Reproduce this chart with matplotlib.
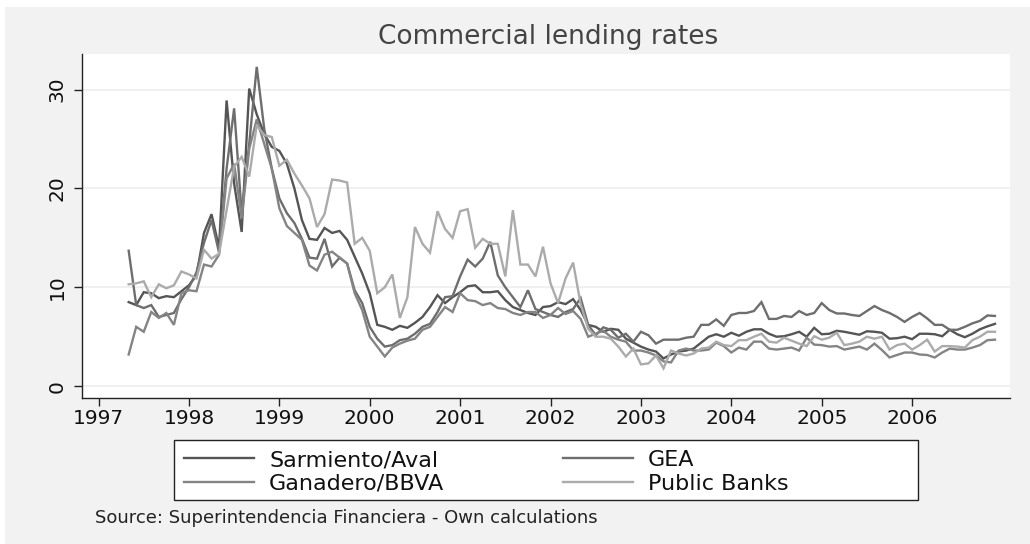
import matplotlib
matplotlib.use('Agg')
import matplotlib.pyplot as plt
from matplotlib.patches import Rectangle
import numpy as np

# ---------------- data (monthly, May 1997 - Dec 2006) ----------------
start_year = 1997
start_month = 5
years = [1997, 1998, 1999, 2000, 2001, 2002, 2003, 2004, 2005, 2006]
yticks = [0, 10, 20, 30]
labels = ["Sarmiento/Aval", "GEA", "Ganadero/BBVA", "Public Banks"]

sarmiento = [8.5, 8.2, 9.5, 9.4, 8.9, 9.1, 9.0, 9.6, 10.2, 11.2, 15.5, 17.4,
             14.0, 28.9, 20.5, 15.6, 30.1, 27.5, 25.5, 24.2,
             23.8, 22.5, 20.0, 16.8, 14.9, 14.8, 16.0, 15.5, 15.7, 14.8, 13.1, 11.4,
             9.4, 6.2, 6.0, 5.7, 6.1, 5.9, 6.4, 7.0, 8.0, 9.2, 8.4, 9.0,
             9.5, 10.1, 10.2, 9.5, 9.5, 9.6, 8.7, 8.0, 7.7, 7.4, 7.2, 8.0,
             8.1, 8.5, 8.3, 8.8, 7.7, 6.2, 6.0, 5.5, 5.8, 5.7, 4.8, 4.4,
             4.0, 3.7, 3.5, 2.8, 3.2, 3.5, 3.6, 3.8, 4.4, 5.0, 5.25, 5.0,
             5.4, 5.1, 5.5, 5.75, 5.75, 5.3, 5.0, 5.05, 5.25, 5.5, 5.0, 5.9,
             5.25, 5.3, 5.6, 5.5, 5.35, 5.2, 5.55, 5.5, 5.4, 4.8, 4.85, 5.0,
             4.75, 5.3, 5.3, 5.25, 5.05, 5.7, 5.25, 4.95, 5.3, 5.75, 6.05, 6.3]

gea = [13.7, 8.2, 7.9, 8.2, 7.0, 7.2, 7.4, 8.8, 10.0, 11.5, 14.5, 16.8,
       13.5, 22.0, 28.1, 17.5, 24.5, 32.3, 26.0, 22.0,
       19.0, 17.5, 16.5, 14.9, 13.0, 12.9, 14.9, 12.1, 13.0, 12.4, 9.7, 8.4,
       6.0, 4.8, 4.0, 4.15, 4.65, 4.8, 5.3, 6.0, 6.3, 7.5, 9.0, 9.1,
       11.1, 12.8, 12.1, 12.9, 14.6, 11.2, 10.0, 9.0, 8.0, 9.7, 7.8, 7.5,
       7.2, 7.0, 7.5, 7.8, 8.9, 6.2, 5.15, 5.95, 5.7, 4.9, 5.3, 4.5,
       5.5, 5.15, 4.3, 4.7, 4.7, 4.7, 4.9, 5.0, 6.2, 6.2, 6.75, 6.1,
       7.2, 7.4, 7.4, 7.6, 8.5, 6.8, 6.8, 7.1, 7.0, 7.6, 7.2, 7.4,
       8.4, 7.7, 7.35, 7.35, 7.2, 7.1, 7.6, 8.1, 7.7, 7.4, 7.0, 6.5,
       7.0, 7.4, 6.85, 6.2, 6.2, 5.7, 5.7, 6.0, 6.35, 6.6, 7.15, 7.1]

ganadero = [3.2, 6.0, 5.5, 7.5, 6.9, 7.4, 6.2, 9.4, 9.7, 9.6, 12.3, 12.1,
            13.3, 21.0, 22.5, 17.0, 24.0, 27.0, 24.5, 22.0,
            18.0, 16.2, 15.5, 14.8, 12.2, 11.7, 13.3, 13.6, 13.0, 12.4, 9.4, 7.7,
            5.0, 4.0, 3.0, 3.9, 4.3, 4.6, 4.8, 5.7, 6.0, 7.0, 8.0, 7.5,
            9.4, 8.7, 8.6, 8.2, 8.4, 7.9, 7.8, 7.4, 7.2, 7.5, 7.5, 6.9,
            7.2, 7.9, 7.3, 7.6, 6.8, 5.0, 5.3, 5.6, 5.0, 4.7, 4.5, 3.6,
            3.6, 3.4, 3.1, 2.5, 2.4, 3.6, 3.8, 3.6, 3.6, 3.7, 4.4, 4.05,
            3.4, 3.9, 3.7, 4.5, 4.5, 3.8, 3.7, 3.8, 3.9, 3.6, 4.9, 4.2,
            4.15, 4.0, 4.05, 3.7, 3.85, 4.0, 3.7, 4.3, 3.65, 2.9, 3.15, 3.4,
            3.4, 3.2, 3.15, 2.9, 3.4, 3.8, 3.7, 3.7, 3.9, 4.15, 4.65, 4.7]

public = [10.3, 10.4, 10.6, 9.0, 10.3, 9.9, 10.2, 11.6, 11.3, 10.9, 13.8, 12.9,
          13.4, 17.8, 22.2, 23.2, 21.2, 26.4, 25.4, 25.2,
          22.3, 22.9, 21.5, 20.3, 19.0, 16.1, 17.4, 20.9, 20.8, 20.6, 14.4, 15.0,
          13.7, 9.4, 10.0, 11.3, 6.9, 9.0, 16.1, 14.4, 13.5, 17.7, 15.9, 15.0,
          17.7, 17.9, 14.0, 14.9, 14.4, 14.4, 11.1, 17.8, 12.3, 12.3, 11.1, 14.1,
          10.4, 8.4, 10.9, 12.5, 8.3, 5.8, 5.0, 5.0, 4.8, 4.0, 3.0, 3.8,
          2.2, 2.3, 3.1, 1.8, 3.6, 3.3, 3.1, 3.3, 3.8, 3.9, 4.5, 4.15,
          4.05, 4.65, 4.65, 5.0, 5.3, 4.5, 4.4, 4.9, 4.6, 4.3, 4.05, 5.05,
          4.7, 4.9, 5.4, 4.15, 4.3, 4.5, 5.0, 4.8, 5.0, 3.7, 4.15, 4.3,
          3.7, 4.15, 4.7, 3.5, 4.05, 4.05, 4.0, 3.9, 4.65, 5.0, 5.5, 5.5]

series = [sarmiento, gea, ganadero, public]
colors = ["#555555", "#6e6e6e", "#848484", "#ababab"]

# ---------------- figure ----------------
W, H = 1030, 544
plt.rcParams['font.family'] = ["DejaVu Sans"]

fig = plt.figure(figsize=(W / 100, H / 100), dpi=100, facecolor="white")
fig.patches.append(Rectangle((5 / W, 0), 1 - 5 / W, 1 - 7 / H, transform=fig.transFigure,
                             facecolor="#f2f2f2", edgecolor="none", zorder=-10))

ax = fig.add_axes([82 / W, 1 - 398 / H, (1010 - 82) / W, (398 - 54) / H])
ax.set_facecolor("white")

n = len(sarmiento)
x = start_year + (start_month - 1 + np.arange(n)) / 12.0

handles = []
for s, c, lab in zip(series, colors, labels):
    h, = ax.plot(x, s, color=c, lw=1.7, label=lab, solid_joinstyle="miter")
    handles.append(h)

ax.set_xlim(1996.817, 2007.083)
ax.set_ylim(-1.2, 33.6)

for yv in yticks:
    ax.axhline(yv, color="#eeeeee", lw=1.2, zorder=0)

ax.set_xticks(years)
ax.set_xticklabels([str(y) for y in years], fontsize=14.5, color="#111111")
ax.set_yticks(yticks)
ax.set_yticklabels([str(v) for v in yticks], fontsize=14.5, rotation=90, va="center",
                   color="#111111")
ax.tick_params(axis="x", length=6, width=1, color="#222222", pad=2)
ax.tick_params(axis="y", length=6, width=1, color="#222222", pad=5)

for side in ["top", "right"]:
    ax.spines[side].set_visible(False)
for side in ["left", "bottom"]:
    ax.spines[side].set_color("#222222")
    ax.spines[side].set_linewidth(1.0)

fig.text(548 / W, 1 - 37 / H, "Commercial lending rates", ha="center", va="center",
         fontsize=19, color="#444444")

# legend box
fig.patches.append(Rectangle((174 / W, 1 - 500 / H), (918 - 174) / W, 60 / H,
                             transform=fig.transFigure, facecolor="white",
                             edgecolor="#222222", lw=1.0, zorder=1))
leg_kw = dict(loc="center left", frameon=False, fontsize=16, handlelength=3.15,
              handletextpad=0.68, borderpad=0, borderaxespad=0, labelspacing=0.17)
leg1 = fig.legend(handles=[handles[0], handles[2]], labels=[labels[0], labels[2]],
                  bbox_to_anchor=(184 / W, 1 - 472 / H), **leg_kw)
leg2 = fig.legend(handles=[handles[1], handles[3]], labels=[labels[1], labels[3]],
                  bbox_to_anchor=(563 / W, 1 - 472 / H), **leg_kw)
for lg in (leg1, lg2 := leg2):
    lg.set_zorder(3)
    for t in lg.get_texts():
        t.set_color("#111111")

fig.text(95 / W, 1 - 518 / H, "Source: Superintendencia Financiera - Own calculations",
         ha="left", va="center", fontsize=13, color="#222222")

fig.savefig("out.png", dpi=100, facecolor=fig.get_facecolor())
